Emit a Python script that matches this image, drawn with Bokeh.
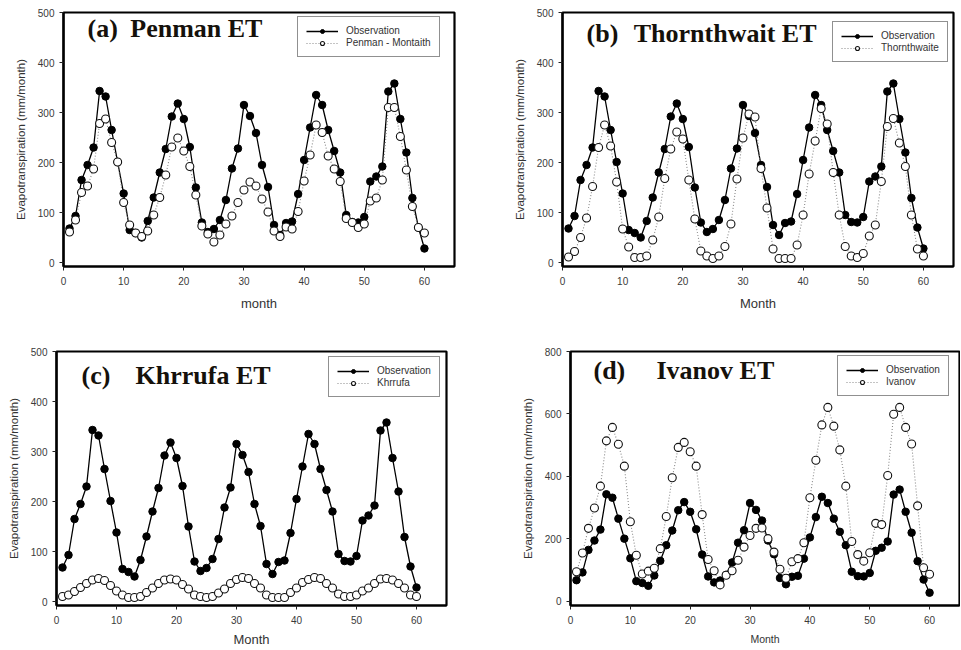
from bokeh.plotting import figure
from bokeh.layouts import column, row
from bokeh.models import Label, Legend, LegendItem, Range1d, FixedTicker
from bokeh.embed import file_html
from bokeh.resources import INLINE

months = list(range(1, 61))

observation = [68, 93, 165, 195, 230, 343, 332, 265, 201, 138,
               65, 59, 50, 83, 130, 180, 227, 292, 318, 287,
               231, 150, 80, 61, 67, 85, 125, 188, 228, 315,
               293, 259, 195, 151, 75, 55, 79, 82, 137, 205,
               270, 335, 315, 265, 223, 180, 95, 81, 80, 91,
               162, 172, 192, 342, 358, 287, 220, 129, 70, 28]

penman = [61, 85, 140, 153, 187, 278, 287, 240, 201, 120,
          75, 59, 52, 63, 95, 130, 175, 231, 249, 223,
          192, 135, 73, 57, 41, 55, 77, 93, 120, 145,
          161, 153, 127, 101, 63, 52, 71, 67, 102, 163,
          215, 275, 260, 213, 187, 162, 88, 80, 70, 77,
          123, 129, 165, 310, 310, 252, 185, 112, 70, 59]

thornthwaite = [11, 22, 50, 89, 152, 230, 275, 233, 161, 67,
                31, 10, 10, 13, 45, 91, 168, 227, 261, 247,
                165, 87, 23, 13, 8, 13, 32, 77, 167, 249,
                297, 291, 188, 109, 27, 8, 8, 8, 35, 95,
                177, 243, 308, 277, 180, 95, 32, 13, 10, 18,
                53, 75, 162, 272, 288, 239, 192, 95, 27, 13]

khrrufa = [10, 13, 20, 28, 36, 43, 46, 42, 32, 21,
           13, 8, 8, 10, 18, 27, 36, 43, 45, 43,
           34, 25, 13, 10, 8, 10, 17, 25, 36, 44,
           48, 46, 36, 27, 13, 8, 8, 8, 18, 27,
           38, 44, 48, 46, 36, 27, 15, 10, 10, 13,
           21, 27, 36, 45, 46, 43, 36, 27, 13, 10]

ivanov = [95, 155, 234, 299, 369, 514, 557, 503, 433, 255,
          148, 88, 97, 106, 169, 272, 396, 493, 509, 479,
          433, 278, 134, 98, 53, 84, 98, 132, 174, 211,
          234, 235, 201, 158, 103, 74, 127, 137, 188, 332,
          452, 565, 621, 561, 485, 369, 192, 150, 129, 156,
          250, 246, 403, 599, 621, 557, 504, 306, 108, 87]

x_ticks = [0, 10, 20, 30, 40, 50, 60]
y_ticks_500 = [0, 100, 200, 300, 400, 500]
y_ticks_800 = [0, 200, 400, 600, 800]

TICK_FONT = "Liberation Sans"
TITLE_FONT = "Liberation Serif"


def make_panel(model, model_name, tag, name, xlabel, y_top, y_bottom, y_ticks,
               width, height, borders, xlabel_size, xlabel_standoff,
               tag_pos, name_pos, legend_loc):
    bl, br, bt, bb = borders
    p = figure(width=width, height=height, output_backend="svg",
               toolbar_location=None, tools="",
               x_range=Range1d(0, 65), y_range=Range1d(y_bottom, y_top),
               min_border_left=bl, min_border_right=br,
               min_border_top=bt, min_border_bottom=bb)
    p.background_fill_color = "white"
    p.border_fill_color = "white"
    p.grid.visible = False
    p.outline_line_color = "black"
    p.outline_line_width = 2.2
    p.outline_line_alpha = 1.0

    for ax in (p.xaxis[0], p.yaxis[0]):
        ax.axis_line_width = 2.2
        ax.axis_line_color = "black"
        ax.major_tick_out = 4
        ax.major_tick_in = 0
        ax.major_tick_line_color = "#222222"
        ax.minor_tick_line_color = None
        ax.major_label_text_font = TICK_FONT
        ax.major_label_text_font_size = "10px"
        ax.major_label_text_color = "#3a3a3a"
        ax.axis_label_text_font = TICK_FONT
        ax.axis_label_text_font_style = "normal"
        ax.axis_label_text_color = "#333333"
    p.xaxis.ticker = FixedTicker(ticks=x_ticks)
    p.yaxis.ticker = FixedTicker(ticks=y_ticks)
    p.xaxis.major_label_standoff = 6
    p.yaxis.major_label_standoff = 5
    p.xaxis.axis_label = xlabel
    p.xaxis.axis_label_text_font_size = xlabel_size
    p.xaxis.axis_label_standoff = xlabel_standoff
    p.yaxis.axis_label = "Evapotranspiration (mm/month)"
    p.yaxis.axis_label_text_font_size = "11.5px"
    p.yaxis.axis_label_standoff = 8

    obs_line = p.line(months, observation, line_color="black", line_width=1.3)
    mod_line = p.line(months, model, line_color="#8a8a8a", line_width=1.1,
                      line_dash="1 2")
    obs_pts = p.scatter(months, observation, marker="circle", size=7.5,
                        fill_color="black", line_color="black", line_width=1)
    mod_pts = p.scatter(months, model, marker="circle", size=8,
                        fill_color="white", line_color="#111111", line_width=1.1)

    legend = Legend(items=[
        LegendItem(label="Observation", renderers=[obs_line, obs_pts]),
        LegendItem(label=model_name, renderers=[mod_line, mod_pts]),
    ], location=legend_loc)
    legend.border_line_color = "#222222"
    legend.border_line_width = 1.6
    legend.background_fill_color = "white"
    legend.background_fill_alpha = 1.0
    legend.label_text_font = TICK_FONT
    legend.label_text_font_size = "10px"
    legend.label_text_color = "#333333"
    legend.glyph_width = 32
    legend.glyph_height = 10
    legend.label_height = 10
    legend.label_standoff = 8
    legend.spacing = 1
    legend.padding = 8
    legend.margin = 0
    p.add_layout(legend, "center")

    p.add_layout(Label(x=tag_pos[0], y=tag_pos[1], text=tag,
                       text_font=TITLE_FONT, text_font_style="bold",
                       text_font_size="26px", text_color="#15110b",
                       text_baseline="middle", text_align="left"))
    p.add_layout(Label(x=name_pos[0], y=name_pos[1], text=name,
                       text_font=TITLE_FONT, text_font_style="bold",
                       text_font_size="26px", text_color="#15110b",
                       text_baseline="middle", text_align="left"))
    return p


pa = make_panel(penman, "Penman - Montaith", "(a)", "Penman ET", "month",
                500, -8, y_ticks_500, 480, 322, (63, 26, 12, 56), "13px", 8,
                (4.0, 468), (11.1, 468), (234, 209))
pb = make_panel(thornthwaite, "Thornthwaite", "(b)", "Thornthwait ET", "Month",
                500, -8, y_ticks_500, 480, 322, (82, 7, 12, 56), "13px", 8,
                (4.0, 459), (11.85, 459), (270, 204))
pc = make_panel(khrrufa, "Khrrufa", "(c)", "Khrrufa ET", "Month",
                500, -8, y_ticks_500, 480, 327, (56, 34, 29, 42), "13px", 5,
                (4.17, 453), (13.17, 453), (272, 208))
pd = make_panel(ivanov, "Ivanov", "(d)", "Ivanov ET", "Month",
                800, -13, y_ticks_800, 480, 327, (90, 1, 29, 42), "10.5px", 6,
                (3.84, 739), (14.37, 739), (267, 209))

layout = column(row(pa, pb), row(pc, pd))

open("out.html", "w").write(file_html(layout, INLINE))
